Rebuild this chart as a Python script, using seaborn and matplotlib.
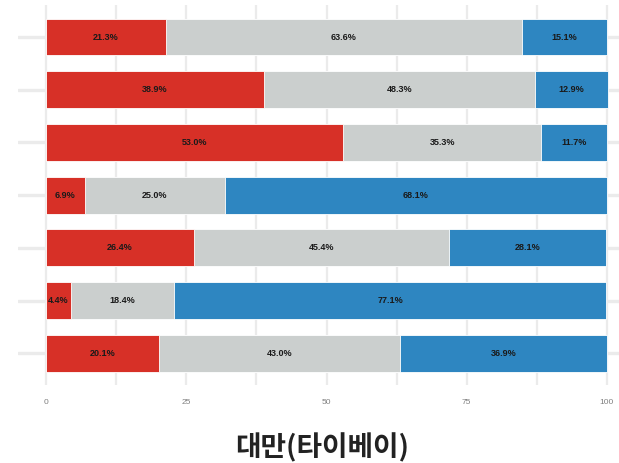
import numpy as np
import pandas as pd
import matplotlib
matplotlib.use("Agg")
import matplotlib.pyplot as plt
import seaborn as sns

# -----------------------------
# DATA
# -----------------------------
rows = ["1", "2", "3", "4", "5", "6", "7"]
red_vals = [21.3, 38.9, 53.0, 6.9, 26.4, 4.4, 20.1]
grey_vals = [63.6, 48.3, 35.3, 25.0, 45.4, 18.4, 43.0]
blue_vals = [15.1, 12.9, 11.7, 68.1, 28.1, 77.1, 36.9]
x_ticks = [0, 25, 50, 75, 100]
title = "대만(타이베이)"

colors = {"red": "#d73027", "grey": "#cbcfce", "blue": "#2e86c1"}

df = pd.DataFrame({"row": rows, "red": red_vals, "grey": grey_vals, "blue": blue_vals})
df["c1"] = df["red"]
df["c2"] = df["red"] + df["grey"]
df["c3"] = df["c2"] + df["blue"]

sns.set_theme(style="white")
plt.rcParams["font.family"] = ["Liberation Sans", "DejaVu Sans"]

fig = plt.figure(figsize=(6.19, 4.63), dpi=100)
ax = fig.add_axes([18 / 619, 1 - 385 / 463, 617 / 619, (385 - 5.4) / 463])

# stacked bars drawn as overlapping cumulative totals
for col, key in [("c3", "blue"), ("c2", "grey"), ("c1", "red")]:
    sns.barplot(data=df, x=col, y="row", orient="h", color=colors[key],
                saturation=1, width=0.7, edgecolor="white", linewidth=0.6, ax=ax)

# labels at segment centres
for i, r in df.iterrows():
    starts = [0, r["c1"], r["c2"]]
    for s, v in zip(starts, [r["red"], r["grey"], r["blue"]]):
        ax.text(s + v / 2, i, f"{v:.1f}%", ha="center", va="center",
                fontsize=6.5, fontweight="bold", color="#1a1a1a")

ax.set_xlim(-5, 105)
ax.set_ylim(6.6, -0.6)
ax.set_xticks(x_ticks)
ax.set_xticks(np.arange(0, 101, 12.5), minor=True)
ax.set_xticklabels([str(t) for t in x_ticks], fontsize=6, color="#7f7f7f")
ax.set_yticks(range(len(rows)))
ax.set_yticklabels([])
ax.tick_params(axis="both", length=0)
ax.tick_params(axis="x", pad=10)
ax.grid(True, which="both", axis="x", color="#ebebeb", linewidth=1.6)
ax.grid(True, which="major", axis="y", color="#ebebeb", linewidth=2.4)
ax.set_axisbelow(True)
ax.set_xlabel("")
ax.set_ylabel("")
for sp in ax.spines.values():
    sp.set_visible(False)

fig.text(322 / 619, 1 - 448 / 463, title, ha="center", va="center",
         fontsize=20, fontweight="bold", color="#222222",
         family=["Noto Sans CJK KR", "DejaVu Sans"])

fig.savefig("out.png", dpi=100)
